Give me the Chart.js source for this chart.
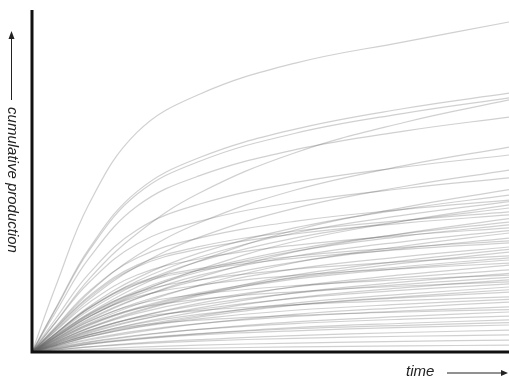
<!DOCTYPE html>
<html>
<head>
<meta charset="utf-8">
<script src="https://cdn.jsdelivr.net/npm/chart.js@4/dist/chart.umd.min.js"></script>
<style>
  html, body { margin: 0; padding: 0; background: #fff; }
  #wrap { width: 509px; height: 379px; position: relative; }
</style>
</head>
<body>
<div id="wrap"><canvas id="production"></canvas></div>
<script>
// time steps along the x axis (0..100 = full width)
const times = [0, 5, 12, 22, 35, 55, 78, 100];

// cumulative production curves, one list per well
const curves = [
  [0, 19.3, 43.4, 64.2, 75.3, 84.4, 90.7, 96.5],
  [0, 12.9, 30.3, 46.9, 56.8, 65.1, 71.2, 75.7],
  [0, 12.6, 29.7, 46.1, 55.7, 63.9, 69.8, 74.3],
  [0, 8.8, 21.4, 34.6, 46.4, 58.2, 67.1, 73.7],
  [0, 11.7, 27.5, 42.6, 51.5, 59.1, 64.6, 68.7],
  [0, 7.2, 17.4, 28.2, 37.7, 47.3, 54.5, 59.9],
  [0, 9.8, 23.0, 35.7, 43.2, 49.5, 54.1, 57.6],
  [0, 6.4, 15.4, 25.0, 33.5, 42.0, 48.4, 53.2],
  [0, 8.7, 20.4, 31.6, 38.2, 43.8, 47.8, 50.9],
  [0, 4.8, 11.4, 19.0, 26.6, 35.6, 42.3, 47.5],
  [0, 5.5, 13.3, 21.6, 28.9, 36.3, 41.8, 45.9],
  [0, 7.5, 17.8, 27.5, 33.3, 38.2, 41.7, 44.4],
  [0, 5.3, 12.8, 20.7, 27.7, 34.8, 40.0, 44.0],
  [0, 4.3, 10.3, 17.2, 24.1, 32.3, 38.3, 43.0],
  [0, 5.1, 12.2, 19.8, 26.5, 33.3, 38.3, 42.1],
  [0, 7.0, 16.4, 25.4, 30.8, 35.3, 38.5, 41.0],
  [0, 6.8, 16.0, 24.9, 30.1, 34.5, 37.7, 40.1],
  [0, 3.9, 9.4, 15.6, 21.8, 29.3, 34.7, 39.0],
  [0, 4.6, 11.0, 17.9, 23.9, 30.0, 34.6, 38.0],
  [0, 4.5, 10.8, 17.5, 23.4, 29.4, 33.9, 37.2],
  [0, 6.2, 14.5, 22.5, 27.2, 31.2, 34.1, 36.3],
  [0, 4.3, 10.3, 16.7, 22.4, 28.0, 32.3, 35.5],
  [0, 3.5, 8.4, 13.9, 19.5, 26.1, 31.0, 34.8],
  [0, 4.0, 9.7, 15.7, 21.0, 26.3, 30.3, 33.3],
  [0, 5.5, 13.0, 20.2, 24.4, 28.0, 30.6, 32.5],
  [0, 5.4, 12.8, 19.8, 23.9, 27.4, 30.0, 31.9],
  [0, 3.7, 8.9, 14.4, 19.3, 24.3, 27.9, 30.7],
  [0, 3.0, 7.2, 12.0, 16.8, 22.5, 26.7, 30.0],
  [0, 2.9, 7.0, 11.7, 16.4, 21.9, 26.0, 29.2],
  [0, 4.8, 11.2, 17.4, 21.1, 24.2, 26.4, 28.1],
  [0, 3.3, 8.0, 12.9, 17.3, 21.7, 25.0, 27.5],
  [0, 3.2, 7.8, 12.6, 16.9, 21.3, 24.5, 26.9],
  [0, 4.4, 10.4, 16.1, 19.5, 22.4, 24.4, 26.0],
  [0, 2.5, 6.1, 10.2, 14.2, 19.1, 22.6, 25.4],
  [0, 2.9, 7.0, 11.3, 15.1, 19.0, 21.8, 24.0],
  [0, 2.3, 5.5, 9.2, 12.9, 17.3, 20.5, 23.0],
  [0, 3.8, 9.0, 14.0, 16.9, 19.4, 21.2, 22.5],
  [0, 2.6, 6.3, 10.2, 13.7, 17.2, 19.8, 21.8],
  [0, 2.1, 5.1, 8.4, 11.8, 15.8, 18.8, 21.1],
  [0, 3.5, 8.2, 12.7, 15.4, 17.6, 19.3, 20.5],
  [0, 2.4, 5.8, 9.4, 12.5, 15.7, 18.1, 19.9],
  [0, 1.9, 4.6, 7.6, 10.6, 14.3, 16.9, 19.0],
  [0, 1.8, 4.4, 7.3, 10.2, 13.7, 16.2, 18.2],
  [0, 2.1, 5.1, 8.2, 11.0, 13.8, 15.9, 17.5],
  [0, 2.7, 6.4, 10.0, 12.1, 13.8, 15.1, 16.1],
  [0, 1.8, 4.5, 7.2, 9.7, 12.2, 14.0, 15.4],
  [0, 1.5, 3.5, 5.8, 8.2, 11.0, 13.0, 14.6],
  [0, 1.6, 3.8, 6.2, 8.3, 10.4, 12.0, 13.2],
  [0, 2.1, 5.0, 7.7, 9.3, 10.7, 11.7, 12.4],
  [0, 1.2, 2.8, 4.7, 6.6, 8.8, 10.4, 11.7],
  [0, 1.3, 3.0, 4.9, 6.6, 8.3, 9.6, 10.5],
  [0, 0.9, 2.3, 3.8, 5.3, 7.1, 8.4, 9.4],
  [0, 1.0, 2.5, 4.0, 5.4, 6.8, 7.8, 8.6],
  [0, 0.9, 2.3, 3.7, 5.0, 6.2, 7.2, 7.9],
  [0, 0.6, 1.5, 2.6, 3.6, 4.8, 5.7, 6.4],
  [0, 0.6, 1.5, 2.4, 3.2, 4.0, 4.6, 5.0],
  [0, 0.4, 0.8, 1.4, 2.0, 2.6, 3.1, 3.5],
  [0, 0.2, 0.5, 0.8, 1.1, 1.5, 1.8, 2.0],
];

const xTitle = "time";
const yTitle = "cumulative production";

// axes, titles and arrows drawn around the plot area
const axesPlugin = {
  id: "axesArrows",
  afterDraw(chart) {
    const c = chart.ctx;
    const a = chart.chartArea;
    c.save();
    c.strokeStyle = "#111";
    c.fillStyle = "#111";
    c.lineWidth = 3;
    c.beginPath();
    c.moveTo(a.left, a.top);
    c.lineTo(a.left, a.bottom + 1.5);
    c.moveTo(a.left - 1.5, a.bottom);
    c.lineTo(a.right, a.bottom);
    c.stroke();

    c.font = "italic 15px 'Liberation Sans', Arial, sans-serif";
    c.fillStyle = "#222";
    c.strokeStyle = "#222";
    c.lineWidth = 1;

    // x title + arrow
    c.textBaseline = "middle";
    c.textAlign = "left";
    c.fillText(xTitle, 406, 372);
    c.beginPath();
    c.moveTo(447, 373);
    c.lineTo(504, 373);
    c.stroke();
    c.beginPath();
    c.moveTo(508, 373);
    c.lineTo(501, 370);
    c.lineTo(501, 376);
    c.closePath();
    c.fill();

    // y title + arrow
    c.save();
    c.translate(12, 180);
    c.rotate(Math.PI / 2);
    c.textAlign = "center";
    c.fillText(yTitle, 0, 0);
    c.restore();
    c.beginPath();
    c.moveTo(11.5, 100);
    c.lineTo(11.5, 38);
    c.stroke();
    c.beginPath();
    c.moveTo(11.5, 31);
    c.lineTo(8.5, 39);
    c.lineTo(14.5, 39);
    c.closePath();
    c.fill();
    c.restore();
  },
};

new Chart(document.getElementById("production"), {
  type: "line",
  data: {
    datasets: curves.map((vals) => ({
      data: vals.map((v, i) => ({ x: times[i], y: v })),
      borderColor: "rgba(100,100,100,0.3)",
      borderWidth: 1.2,
      pointRadius: 0,
      fill: false,
      tension: 0.4,
    })),
  },
  options: {
    responsive: true,
    maintainAspectRatio: false,
    animation: false,
    devicePixelRatio: 1,
    layout: {
      padding: { left: 32, right: 0, top: 10, bottom: 27 },
    },
    plugins: {
      legend: { display: false },
      tooltip: { enabled: false },
    },
    scales: {
      x: { type: "linear", min: 0, max: 100, display: false },
      y: { min: 0, max: 100, display: false },
    },
  },
  plugins: [axesPlugin],
});
</script>
</body>
</html>
